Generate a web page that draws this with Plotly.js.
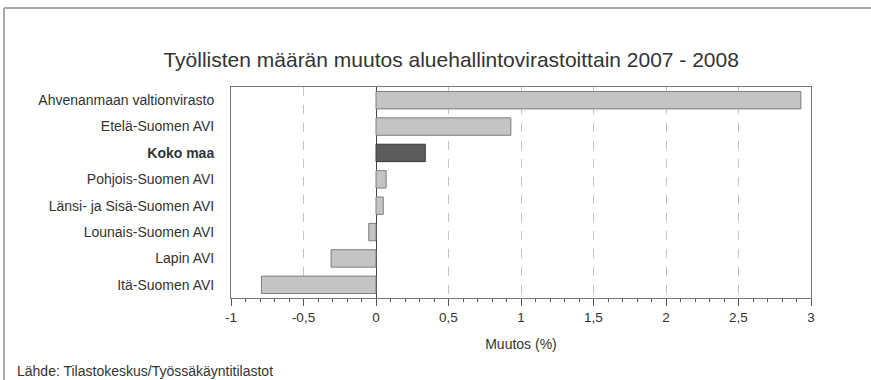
<!DOCTYPE html>
<html>
<head>
<meta charset="utf-8">
<script src="https://cdn.plot.ly/plotly-3.0.1.min.js"></script>
<style>html,body{margin:0;padding:0;background:#fff;}#chart{width:871px;height:380px;}</style>
</head>
<body>
<div id="chart"></div>
<script>
var categories = ["Ahvenanmaan valtionvirasto", "Etelä-Suomen AVI", "Koko maa", "Pohjois-Suomen AVI", "Länsi- ja Sisä-Suomen AVI", "Lounais-Suomen AVI", "Lapin AVI", "Itä-Suomen AVI"];
var categoryLabels = ["Ahvenanmaan valtionvirasto", "Etelä-Suomen AVI", "<b>Koko maa</b>", "Pohjois-Suomen AVI", "Länsi- ja Sisä-Suomen AVI", "Lounais-Suomen AVI", "Lapin AVI", "Itä-Suomen AVI"];
var changes = [2.93, 0.93, 0.34, 0.07, 0.05, -0.05, -0.31, -0.79];
var xTickVals = [-1, -0.5, 0, 0.5, 1, 1.5, 2, 2.5, 3];
var xTickText = ["-1", "-0,5", "0", "0,5", "1", "1,5", "2", "2,5", "3"];

var fills = categories.map(function(c){ return c === "Koko maa" ? "#5c5c5c" : "#c4c4c4"; });
var lines = categories.map(function(c){ return c === "Koko maa" ? "#3a3a3a" : "#7e7e7e"; });

var W = 871, H = 380, ml = 231, mr = 60, mt = 87, mb = 82;
var pw = W - ml - mr, ph = H - mt - mb;
function px(x){ return (x - ml) / pw; }
function py(y){ return (H - mb - y) / ph; }

var trace = {
  type: "bar",
  orientation: "h",
  y: categories,
  x: changes,
  marker: {color: fills, line: {color: lines, width: 1}},
  hoverinfo: "skip"
};

var font = "Liberation Sans, Arial, sans-serif";
var layout = {
  width: W, height: H,
  margin: {l: ml, r: mr, t: mt, b: mb, pad: 0},
  paper_bgcolor: "#fff", plot_bgcolor: "#fff",
  showlegend: false,
  bargap: 0.34,
  font: {family: font, size: 14, color: "#333"},
  title: {
    text: "Työllisten määrän muutos aluehallintovirastoittain 2007 - 2008",
    font: {family: font, size: 21, color: "#333"},
    xref: "container", x: 0.518, xanchor: "center",
    yref: "container", y: 1 - 60/380, yanchor: "middle"
  },
  xaxis: {
    range: [-1, 3],
    tickvals: xTickVals, ticktext: xTickText,
    ticks: "outside", ticklen: 7, tickcolor: "#555", tickwidth: 1,
    showline: true, linecolor: "#777", linewidth: 1, mirror: true,
    showgrid: true, gridcolor: "#c4c4c4", griddash: "dash", gridwidth: 1,
    zeroline: true, zerolinecolor: "#444", zerolinewidth: 1,
    minor: {dtick: 0.1, tick0: 0, ticks: "outside", ticklen: 3, tickcolor: "#555", showgrid: false},
    tickfont: {family: font, size: 13.5, color: "#333"},
    title: {text: "Muutos (%)", font: {family: font, size: 14, color: "#333"}, standoff: 14},
    fixedrange: true
  },
  yaxis: {
    type: "category",
    autorange: "reversed",
    tickvals: categories, ticktext: categoryLabels,
    ticks: "", showline: true, linecolor: "#777", mirror: true,
    showgrid: false, zeroline: false,
    ticklabelstandoff: 13,
    tickfont: {family: font, size: 14, color: "#333"},
    fixedrange: true
  },
  shapes: [
    {type: "line", xref: "paper", yref: "paper", x0: px(4), x1: px(871), y0: py(8), y1: py(8), line: {color: "#aaa", width: 2}},
    {type: "line", xref: "paper", yref: "paper", x0: px(4), x1: px(4), y0: py(8), y1: py(380), line: {color: "#aaa", width: 2}}
  ],
  annotations: [
    {text: "Lähde: Tilastokeskus/Työssäkäyntitilastot", xref: "paper", yref: "paper", x: px(15), y: py(371), xanchor: "left", yanchor: "middle", showarrow: false, font: {family: font, size: 14, color: "#333"}}
  ]
};

Plotly.newPlot("chart", [trace], layout, {staticPlot: true, displayModeBar: false});
</script>
</body>
</html>
